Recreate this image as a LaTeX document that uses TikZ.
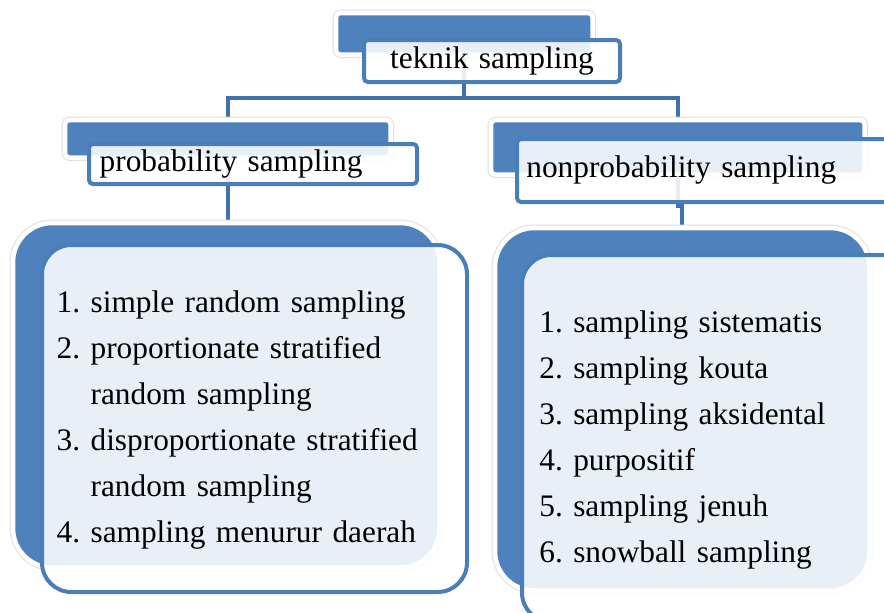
\documentclass[tikz,border=0pt]{standalone}
\usepackage{fontspec}
\setmainfont{Liberation Serif}
\usepackage{tikz}
\usetikzlibrary{backgrounds}
\definecolor{headblue}{HTML}{4F81BD}
\definecolor{edgeblue}{HTML}{4A7EBB}
\definecolor{linkblue}{HTML}{4170AB}
\tikzstyle{backbox}  = [rectangle, anchor=north west, inner sep=0pt, fill=headblue, preaction={draw=black!13, line width=8.6pt}, preaction={draw=white, line width=7.1pt}]
\tikzstyle{frontbox} = [rectangle, anchor=north west, inner ysep=0pt, draw=edgeblue, line width=3pt, fill=white, fill opacity=0.88, text opacity=1, font=\fontsize{23.5}{34.5}\selectfont]
\tikzstyle{link}     = [line width=3pt, draw=linkblue]

\begin{document}
\begin{tikzpicture}[x=0.75pt, y=-0.75pt]
\useasboundingbox (0,0) rectangle (884,612);
\clip (0,0) rectangle (884,612);

% back boxes
\node (topb) [backbox, rounded corners=2pt, minimum width=189pt, minimum height=27.75pt] at (338,15) {};
\node (probb) [backbox, rounded corners=2pt, minimum width=240.75pt, minimum height=24.75pt] at (67,122) {};
\node (nonb) [backbox, rounded corners=2pt, minimum width=276.75pt, minimum height=37.5pt] at (493,122) {};
\node (llistb) [backbox, rounded corners=28pt, minimum width=316.5pt, minimum height=255pt] at (15,225) {};
\node (rlistb) [backbox, rounded corners=28pt, minimum width=277.5pt, minimum height=268.5pt] at (497,230) {};

% front boxes
\node (topf) [frontbox, rounded corners=3pt, minimum width=192pt, minimum height=31.5pt, inner xsep=6pt, text width=180pt, align=center] at (362,38) {teknik sampling};
\node (probf) [frontbox, rounded corners=3pt, minimum width=246pt, minimum height=30pt, inner xsep=8pt, text width=230pt, align=left] at (87,142) {probability sampling};
\node (nonf) [frontbox, rounded corners=3pt, minimum width=288.75pt, minimum height=47.25pt, inner xsep=7pt, text width=274.75pt, align=left] at (515,137) {nonprobability sampling};
\node (llistf) [frontbox, rounded corners=22pt, minimum width=318.75pt, minimum height=260.25pt, inner xsep=11pt, text width=296.75pt, align=left] at (40,243) {%
  \begin{tabular}{@{}l@{\ }l@{}}
  1. & simple random sampling\\
  2. & proportionate stratified\\
     & random sampling\\
  3. & disproportionate stratified\\
     & random sampling\\
  4. & sampling menurur daerah
  \end{tabular}};
\node (rlistf) [frontbox, rounded corners=22pt, minimum width=292.5pt, minimum height=275.25pt, inner xsep=13pt, text width=266.5pt, align=left] at (520,253) {%
  \begin{tabular}{@{}l@{\ }l@{}}
  1. & sampling sistematis\\
  2. & sampling kouta\\
  3. & sampling aksidental\\
  4. & purpositif\\
  5. & sampling jenuh\\
  6. & snowball sampling
  \end{tabular}};

% connectors
\begin{scope}[on background layer]
\draw [link] (topb.south) -- ++(0,45) -| (probb.north);
\draw [link] (topb.south) -- ++(0,45) -| (nonb.north);
\draw [link] (probb.south) -- (probb.south |- llistb.north);
\draw [link] (nonb.south) -- ++(0,33) -| (rlistb.north);
\end{scope}
\end{tikzpicture}
\end{document}
